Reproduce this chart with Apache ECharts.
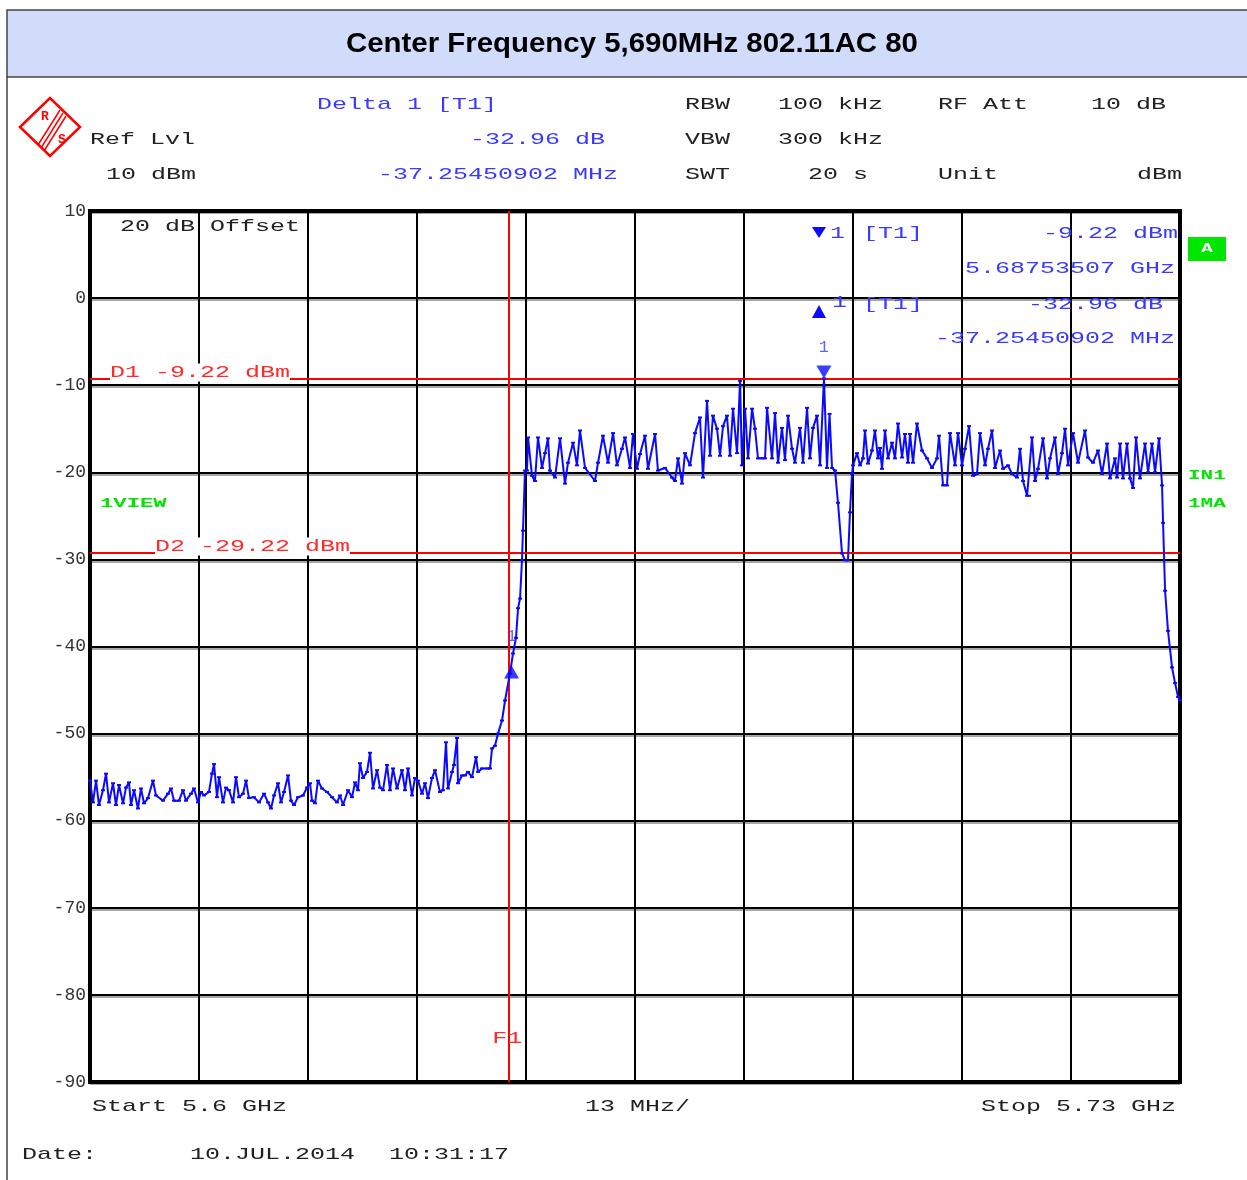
<!DOCTYPE html>
<html>
<head>
<meta charset="utf-8">
<script src="https://cdn.jsdelivr.net/npm/echarts@6/dist/echarts.min.js"></script>
<style>
html,body{margin:0;padding:0;background:#fff;}
#chart{width:1247px;height:1180px;}
</style>
</head>
<body>
<div id="chart"></div>
<script>
// ---------- data (frequency as MHz offset from start, level in dBm) ----------
const startGHz = 5.6;
const stopGHz = 5.73;
const spanMHz = 130;
const mhzPerDiv = 13;
const yTicks = [10, 0, -10, -20, -30, -40, -50, -60, -70, -80, -90];

const noiseFloorA = [
 [0,-55.4],[0.36,-57.9],[0.72,-55.4],[1.07,-58.2],[1.55,-56.5],[1.91,-54.6],[2.27,-57.9],[2.74,-55.7],
 [3.10,-58.2],[3.46,-55.9],[3.94,-58.0],[4.29,-56.2],[4.65,-55.6],[4.89,-58.2],[5.25,-56.5],[5.72,-58.6],
 [6.08,-56.3],[6.44,-58.0],[6.92,-57.4],[7.51,-55.4],[7.87,-57.1],[8.71,-57.7],[9.30,-56.9],[9.66,-56.3],
 [10.02,-57.7],[10.62,-57.7],[11.09,-56.5],[11.45,-57.7],[12.05,-56.9],[12.40,-56.3],[12.88,-57.9],[13.24,-56.7],
 [13.60,-57.1],[14.19,-56.7],[14.55,-54.6],[14.79,-53.5],[15.15,-57.3],[15.39,-55.0],[15.86,-57.9],[16.22,-56.2],
 [16.58,-56.5],[17.06,-57.9],[17.41,-55.0],[17.77,-57.3],[18.25,-56.9],[18.61,-55.4],[18.96,-57.4],[19.56,-57.3],
 [20.16,-57.9],[20.75,-56.9],[21.23,-57.9],[21.59,-58.6],[21.95,-57.1],[22.42,-55.7],[22.78,-57.9],[23.14,-56.7],
 [23.62,-54.8],[23.97,-57.7],[24.33,-58.2],[24.81,-57.3],[25.40,-57.1]
];
const noiseFloorB = [
 [25.88,-56.2],[26.24,-55.7],[26.48,-57.7],[26.84,-58.0],[27.19,-55.4],[27.67,-56.3],[28.27,-56.7],[28.86,-57.3],
 [29.46,-57.9],[29.82,-57.1],[30.18,-58.2],[30.77,-56.5],[31.25,-57.3],[31.61,-55.6],[31.96,-56.5],[32.20,-53.4],
 [32.56,-55.1],[33.04,-54.4],[33.40,-52.2],[33.75,-56.3],[34.23,-54.2],[34.59,-56.2],[34.95,-56.5],[35.42,-53.6],
 [35.78,-56.5],[36.14,-54.0],[36.62,-56.3],[37.21,-54.2],[37.57,-56.5],[37.93,-54.0],[38.40,-57.1],[38.76,-55.1],
 [39.12,-55.4],[39.60,-56.9],[39.95,-55.7],[40.31,-57.4],[40.79,-55.1],[41.15,-54.2],[41.74,-56.7],[42.10,-56.5],
 [42.46,-51.0],[42.70,-56.3],[43.18,-54.4],[43.41,-53.6],[43.77,-50.5],[43.89,-55.7],[44.37,-54.8],[44.73,-54.8],
 [45.08,-54.4],[45.56,-55.0],[46.04,-52.7],[46.28,-54.4],[46.75,-54.0],[47.35,-54.0],[47.71,-54.0]
];
const riseEdge = [
 [47.95,-51.7],[48.30,-51.4],[48.66,-50.0],[49.14,-48.5],[49.50,-46.2],[50.09,-43.1],[50.45,-40.8],
 [50.81,-39.0],[51.05,-35.6],[51.29,-34.5],[51.52,-30.1],[51.64,-26.7],[51.88,-19.8],[52.12,-19.8]
];
const channelLow = [
 [52.24,-16.0],[52.72,-20.4],[53.07,-21.0],[53.43,-16.0],[53.91,-19.5],[54.27,-17.8],[54.62,-16.1],[54.86,-19.8],
 [55.46,-20.6],[56.06,-16.1],[56.65,-21.3],[57.01,-18.9],[57.61,-16.6],[58.08,-19.2],[58.44,-15.2],[59.04,-19.5],
 [60.23,-21.0],[60.59,-18.9],[61.18,-15.8],[61.78,-18.9],[62.38,-15.5],[62.85,-19.2],[63.45,-17.3],[63.81,-16.0],
 [64.41,-19.5],[64.76,-15.6],[65.24,-19.6],[65.60,-17.9],[66.19,-15.8],[66.55,-19.6],[67.39,-15.6],[67.74,-19.8],
 [68.58,-19.5],[69.41,-20.6],[69.77,-21.0],[70.13,-18.4],[70.61,-21.3],[70.96,-17.8],[71.56,-19.2]
];
const channelHigh = [
 [72.16,-15.5],[72.75,-13.7],[73.11,-20.6],[73.59,-11.8],[73.95,-18.1],[74.30,-13.5],[74.78,-15.0],[75.14,-18.1],
 [75.50,-14.7],[75.97,-13.5],[76.33,-18.1],[76.69,-12.7],[77.17,-17.8],[77.53,-9.5],[77.76,-19.2],[78.12,-12.7],
 [78.48,-18.4],[78.96,-12.7],[79.31,-15.0],[79.67,-18.4],[80.15,-18.4],[80.51,-18.4],[80.75,-12.6],[81.34,-18.4],
 [81.70,-13.2],[82.06,-18.9],[82.53,-14.9],[82.89,-18.6],[83.25,-13.5],[83.73,-17.3],[84.08,-18.9],[84.68,-14.9],
 [85.04,-18.9],[85.52,-12.6],[85.87,-18.4],[86.23,-14.9],[86.71,-13.5],[87.07,-19.2],[87.54,-9.22],[87.90,-19.5],
 [88.20,-13.3],[88.50,-19.5]
];
const notchDip = [
 [88.86,-19.8],[89.21,-23.5],[89.69,-29.3],[90.05,-30.1],[90.40,-30.1],[90.64,-24.6],[90.88,-20.2]
];
const channelUpper = [
 [91.00,-19.2],[91.48,-17.8],[91.84,-19.2],[92.19,-18.4],[92.43,-15.2],[92.79,-19.0],[93.27,-17.5],[93.62,-15.2],
 [93.98,-18.4],[94.22,-17.2],[94.46,-19.6],[94.82,-15.2],[95.18,-18.4],[95.65,-16.6],[96.01,-18.4],[96.37,-14.4],
 [96.85,-18.3],[97.20,-15.6],[97.56,-18.9],[97.80,-15.6],[98.16,-18.9],[98.63,-14.4],[99.23,-17.5],[99.83,-18.4],
 [100.42,-19.5],[101.02,-18.4],[101.26,-15.8],[101.74,-21.5],[102.21,-21.5],[102.57,-15.5],[103.17,-19.2],[103.53,-15.5],
 [104.00,-19.2],[104.36,-17.3],[104.84,-14.7],[105.32,-20.4],[105.79,-20.2],[106.15,-15.5],[106.75,-19.2],[107.10,-17.3],
 [107.58,-15.2],[107.94,-19.5],[108.54,-17.5],[108.89,-19.6],[109.49,-19.2],[109.97,-20.2],[110.56,-20.6],[110.92,-17.3],
 [111.28,-21.0],[111.76,-22.7],[111.99,-22.7],[112.35,-16.0],[112.71,-21.0],[113.07,-19.6],[113.66,-16.1],[114.14,-20.7],
 [114.50,-18.4],[115.09,-16.0],[115.45,-20.2],[115.93,-17.8],[116.29,-15.0],[116.65,-19.2],[117.24,-15.5],[117.84,-18.9],
 [118.67,-15.2],[119.03,-18.3],[119.63,-18.9],[120.22,-17.5],[120.70,-20.2],[121.30,-16.7],[121.66,-20.7],[122.25,-18.4],
 [122.49,-20.6],[122.85,-16.7],[123.20,-20.7],[123.68,-16.7],[124.04,-20.7],[124.40,-21.8],[124.76,-16.0],[125.23,-20.7],
 [125.83,-16.7],[126.19,-20.0],[126.66,-16.7],[127.02,-20.0],[127.50,-16.1]
];
const fallEdge = [
 [127.86,-21.5],[127.98,-25.8],[128.22,-33.6],[128.57,-38.2],[129.05,-42.4],[129.41,-44.2],[129.77,-45.8],[130.00,-46.2]
];

// markers and display lines
const marker1FreqGHz = 5.68753507;
const marker1LevelDbm = -9.22;
const delta1FreqMHz = -37.25450902;
const delta1LevelDb = -32.96;
const displayLineNames = ['D1', 'D2'];
const displayLineLevels = [-9.22, -29.22];
const f1FreqGHz = 5.65;

// ---------- chart ----------
const trace = [].concat(noiseFloorA, noiseFloorB, riseEdge, channelLow, channelHigh, notchDip, channelUpper, fallEdge);
const m1x = (marker1FreqGHz - startGHz) * 1000;
const d1x = m1x + delta1FreqMHz;
const d1y = marker1LevelDbm + delta1LevelDb;
const f1x = (f1FreqGHz - startGHz) * 1000;

const BLUE = '#0a0aff';
const TBLUE = '#3a3aff';
const RED = '#ff0000';
const GREEN = '#00e600';
const MONO = '"Liberation Mono", "DejaVu Sans Mono", monospace';

const chart = echarts.init(document.getElementById('chart'), null, {renderer: 'canvas'});

chart.setOption({
  animation: false,
  backgroundColor: '#ffffff',
  grid: {left: 90, right: 67, top: 211, bottom: 98, show: true, borderColor: '#000', borderWidth: 4, backgroundColor: '#fff'},
  xAxis: {
    type: 'value', min: 0, max: spanMHz, interval: mhzPerDiv,
    axisLabel: {show: false}, axisTick: {show: false}, axisLine: {show: false},
    splitLine: {show: true, lineStyle: {color: '#000', width: 2}}
  },
  yAxis: {
    type: 'value', min: yTicks[yTicks.length - 1], max: yTicks[0], interval: 10,
    axisTick: {show: false}, axisLine: {show: false},
    axisLabel: {fontFamily: MONO, fontSize: 18, color: '#333', margin: 4, padding: [0, 0, 5, 0]},
    splitLine: {show: true, lineStyle: {color: '#000', width: 2, shadowColor: 'rgba(0,0,0,0.35)', shadowBlur: 0, shadowOffsetY: 2}}
  },
  series: [
    {
      type: 'line', data: trace, silent: true,
      lineStyle: {color: BLUE, width: 2},
      itemStyle: {color: BLUE},
      symbol: 'rect', symbolSize: [4, 2], showSymbol: true, showAllSymbol: true,
      z: 5,
      markLine: {
        silent: true, symbol: 'none', animation: false,
        lineStyle: {color: RED, width: 2, type: 'solid'},
        label: {show: false},
        data: [
          {yAxis: displayLineLevels[0]},
          {yAxis: displayLineLevels[1]},
          {xAxis: f1x}
        ]
      }
    },
    {
      type: 'scatter', silent: true, z: 6,
      data: [[m1x, marker1LevelDbm]],
      symbol: 'triangle', symbolRotate: 180, symbolSize: [15, 13], symbolOffset: [0, '-50%'],
      itemStyle: {color: BLUE},
      label: {show: true, formatter: '1', position: 'top', distance: 9, color: TBLUE, fontFamily: MONO, fontSize: 17}
    },
    {
      type: 'scatter', silent: true, z: 6,
      data: [[d1x, d1y]],
      symbol: 'triangle', symbolSize: [15, 13], symbolOffset: [0, '50%'],
      itemStyle: {color: BLUE},
      label: {show: true, formatter: '1', position: 'top', distance: 20, color: TBLUE, fontFamily: MONO, fontSize: 17}
    }
  ]
});

// ---------- annotations ----------
function txt(s, x, y, o) {
  o = o || {};
  const align = o.a || 'left';
  return {
    type: 'text', x: x, y: y, scaleX: o.sx || 1.47, scaleY: 1, silent: true, z: o.z || 100,
    style: {
      text: s, fill: o.c || '#222',
      font: (o.w || 'normal') + ' ' + (o.fs || 17) + 'px ' + (o.ff || MONO),
      textAlign: align, textVerticalAlign: 'middle', align: align, verticalAlign: 'middle',
      backgroundColor: o.bg, padding: o.pad
    }
  };
}

const yD1 = chart.convertToPixel({yAxisIndex: 0}, displayLineLevels[0]);
const yD2 = chart.convertToPixel({yAxisIndex: 0}, displayLineLevels[1]);
const xF1 = chart.convertToPixel({xAxisIndex: 0}, f1x);
const fmt = (v, d) => (v < 0 ? '-' : '') + Math.abs(v).toFixed(d);

const g = [];
// title band
g.push({type: 'rect', shape: {x: 7, y: 10, width: 1245, height: 67}, style: {fill: '#d0dcfa', stroke: '#444', lineWidth: 1.5}, z: 90, silent: true});
g.push({type: 'line', shape: {x1: 7, y1: 77, x2: 7, y2: 1180}, style: {stroke: '#444', lineWidth: 1.5}, z: 90, silent: true});
g.push(txt('Center Frequency 5,690MHz 802.11AC 80', 632, 44, {a: 'center', sx: 1.05, fs: 28, w: 'bold', ff: '"Liberation Sans", Arial, sans-serif', c: '#000'}));

// R&S logo
g.push({type: 'polygon', shape: {points: [[20, 127], [50, 98], [80, 127], [50, 156]]}, style: {fill: 'none', stroke: RED, lineWidth: 2.5}, z: 95, silent: true});
g.push({type: 'polyline', shape: {points: [[60, 110], [38, 145]]}, style: {stroke: RED, lineWidth: 1.5}, z: 95, silent: true});
g.push({type: 'polyline', shape: {points: [[63, 113], [41, 148]]}, style: {stroke: RED, lineWidth: 1.5}, z: 95, silent: true});
g.push({type: 'polyline', shape: {points: [[66, 116], [44, 151]]}, style: {stroke: RED, lineWidth: 1.5}, z: 95, silent: true});
g.push(txt('R', 41, 117, {c: RED, fs: 13, w: 'bold', sx: 1}));
g.push(txt('S', 58, 140, {c: RED, fs: 13, w: 'bold', sx: 1}));

// header
g.push(txt('Delta 1 [T1]', 317, 104, {c: TBLUE}));
g.push(txt('RBW', 685, 104));
g.push(txt('100 kHz', 778, 104));
g.push(txt('RF Att', 938, 104));
g.push(txt('10 dB', 1091, 104));
g.push(txt('Ref Lvl', 90, 139));
g.push(txt(fmt(delta1LevelDb, 2) + ' dB', 605, 139, {c: TBLUE, a: 'right'}));
g.push(txt('VBW', 685, 139));
g.push(txt('300 kHz', 778, 139));
g.push(txt('10 dBm', 106, 174));
g.push(txt(fmt(delta1FreqMHz, 8) + ' MHz', 378, 174, {c: TBLUE}));
g.push(txt('SWT', 685, 174));
g.push(txt('20 s', 808, 174));
g.push(txt('Unit', 938, 174));
g.push(txt('dBm', 1137, 174));

// in-plot
g.push(txt('20 dB Offset', 120, 226));
g.push({type: 'polygon', shape: {points: [[812, 227], [826, 227], [819, 238]]}, style: {fill: BLUE}, z: 100, silent: true});
g.push(txt('1', 830, 233, {c: TBLUE}));
g.push(txt('[T1]', 863, 233, {c: TBLUE}));
g.push(txt(fmt(marker1LevelDbm, 2) + ' dBm', 1178, 233, {c: TBLUE, a: 'right'}));
g.push(txt(marker1FreqGHz.toFixed(8) + ' GHz', 1175, 268, {c: TBLUE, a: 'right'}));
g.push({type: 'polygon', shape: {points: [[812, 318], [826, 318], [819, 305]]}, style: {fill: BLUE}, z: 100, silent: true});
g.push(txt('1', 832, 302, {c: TBLUE}));
g.push(txt('[T1]', 863, 304, {c: TBLUE}));
g.push(txt(fmt(delta1LevelDb, 2) + ' dB', 1163, 304, {c: TBLUE, a: 'right'}));
g.push(txt(fmt(delta1FreqMHz, 8) + ' MHz', 1175, 338, {c: TBLUE, a: 'right'}));

// display lines labels
g.push(txt(displayLineNames[0] + ' ' + fmt(displayLineLevels[0], 2) + ' dBm', 110, yD1 - 6, {c: '#ff2a2a', bg: '#fff', pad: [0, 0, 1, 0]}));
g.push(txt(displayLineNames[1] + ' ' + fmt(displayLineLevels[1], 2) + ' dBm', 155, yD2 - 6, {c: '#ff2a2a', bg: '#fff', pad: [0, 0, 1, 0]}));
g.push(txt('F1', xF1 - 2, 1038, {c: '#ff2a2a', a: 'center'}));

// green status labels
g.push(txt('1VIEW', 100, 504, {c: GREEN, fs: 12, w: 'bold', sx: 1.85}));
g.push({type: 'rect', shape: {x: 1188, y: 237, width: 38, height: 24}, style: {fill: GREEN}, z: 100, silent: true});
g.push(txt('A', 1207, 249, {c: '#fff', fs: 12, w: 'bold', sx: 1.6, a: 'center'}));
g.push(txt('IN1', 1188, 476, {c: GREEN, fs: 12, w: 'bold', sx: 1.75}));
g.push(txt('1MA', 1188, 504, {c: GREEN, fs: 12, w: 'bold', sx: 1.75}));

// footer
g.push(txt('Start ' + startGHz + ' GHz', 92, 1106));
g.push(txt(mhzPerDiv + ' MHz/', 585, 1106));
g.push(txt('Stop ' + stopGHz + ' GHz', 1176, 1106, {a: 'right'}));
g.push(txt('Date:', 22, 1154));
g.push(txt('10.JUL.2014', 190, 1154));
g.push(txt('10:31:17', 389, 1154));

chart.setOption({graphic: {elements: g}});
</script>
</body>
</html>
